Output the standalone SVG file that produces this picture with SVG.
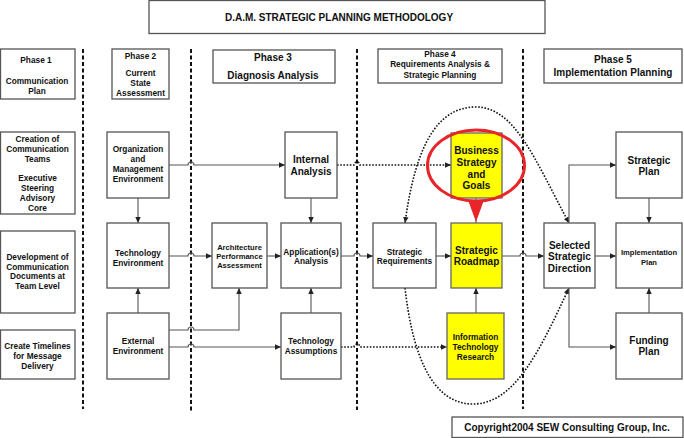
<svg xmlns="http://www.w3.org/2000/svg" width="684" height="438" viewBox="0 0 684 438">
<defs>
<style>
text{font-family:"Liberation Sans",Arial,sans-serif;font-weight:bold;fill:#111;text-anchor:middle;font-size:8.3px}
.box{fill:#fff;stroke:#555;stroke-width:1.3}
.yel{fill:#ffff00;stroke:#666;stroke-width:1.3}
.big{font-size:10px}
.sm{font-size:7.6px}
.sep{stroke:#111;stroke-width:2;stroke-dasharray:4 2.5;fill:none}
.c{fill:none;stroke:#555;stroke-width:1.1}
.d{fill:none;stroke:#111;stroke-width:1.6;stroke-dasharray:1.6 1.6}
</style>
<marker id="ah" viewBox="0 0 6 6" refX="6" refY="3" markerWidth="6" markerHeight="6" markerUnits="userSpaceOnUse" orient="auto-start-reverse">
<path d="M0,0.3 L6,3 L0,5.7 z" fill="#222"/>
</marker>
</defs>

<g id="separators">
<line class="sep" x1="83" y1="49" x2="83" y2="409"/>
<line class="sep" x1="191" y1="49" x2="191" y2="412"/>
<line class="sep" x1="357" y1="49" x2="357" y2="410"/>
<line class="sep" x1="523" y1="49" x2="523" y2="409"/>
</g>

<g id="title">
<rect class="box" x="149" y="0.5" width="396" height="33"/>
<text class="big" x="339" y="20.5">D.A.M. STRATEGIC PLANNING METHODOLOGY</text>
</g>

<g id="phase1">
<rect class="box" x="0.5" y="49" width="74.5" height="50"/>
<text x="36" y="63">Phase 1</text>
<text x="37" y="84">Communication</text>
<text x="37" y="94">Plan</text>
</g>
<g id="phase2">
<rect class="box" x="112" y="49" width="57" height="50"/>
<text x="140.5" y="59">Phase 2</text>
<text x="140.5" y="76">Current</text>
<text x="140.5" y="86">State</text>
<text x="140.5" y="96">Assessment</text>
</g>
<g id="phase3">
<rect class="box" x="213" y="50" width="122" height="33"/>
<text class="big" x="273" y="60.6">Phase 3</text>
<text class="big" x="273" y="78.6">Diagnosis Analysis</text>
</g>
<g id="phase4">
<rect class="box" x="378" y="49" width="124" height="34"/>
<text x="440" y="56.5">Phase 4</text>
<text x="440" y="67">Requirements Analysis &amp;</text>
<text x="440" y="78">Strategic Planning</text>
</g>
<g id="phase5">
<rect class="box" x="544" y="49" width="138" height="34"/>
<text class="big" x="613" y="62.6">Phase 5</text>
<text class="big" x="613" y="75.6">Implementation Planning</text>
</g>

<g id="creation">
<rect class="box" x="0.5" y="132" width="74.5" height="82"/>
<text x="37.5" y="142.3">Creation of</text>
<text x="37.5" y="152.3">Communication</text>
<text x="37.5" y="162.3">Teams</text>
<text x="37.5" y="181.3">Executive</text>
<text x="37.5" y="191.3">Steering</text>
<text x="37.5" y="201.3">Advisory</text>
<text x="37.5" y="211.3">Core</text>
</g>
<g id="development">
<rect class="box" x="0.5" y="231" width="74.5" height="82"/>
<text x="37.5" y="260">Development of</text>
<text x="37.5" y="269.5">Communication</text>
<text x="37.5" y="279">Documents at</text>
<text x="37.5" y="289">Team Level</text>
</g>
<g id="timelines">
<rect class="box" x="0.5" y="330" width="74.5" height="49"/>
<text x="37.5" y="349">Create Timelines</text>
<text x="37.5" y="359">for Message</text>
<text x="37.5" y="369">Delivery</text>
</g>

<g id="connectors">
<path class="c" d="M169,165 H188 A3,3 0 0 1 194,165 H285" marker-end="url(#ah)"/>
<path class="c" d="M138,198 V223" marker-end="url(#ah)"/>
<path class="c" d="M138,313 V288" marker-end="url(#ah)"/>
<path class="c" d="M169,256 H188 A3,3 0 0 1 194,256 H212" marker-end="url(#ah)"/>
<path class="c" d="M169,330 H188 A3,3 0 0 1 194,330 H239 V288" marker-end="url(#ah)"/>
<path class="c" d="M169,347 H188 A3,3 0 0 1 194,347 H281" marker-end="url(#ah)"/>
<path class="c" d="M267,256 H281" marker-end="url(#ah)"/>
<path class="c" d="M311,198 V223" marker-end="url(#ah)"/>
<path class="c" d="M311,313 V288" marker-end="url(#ah)"/>
<path class="c" d="M341,256 H354 A3,3 0 0 1 360,256 H373" marker-end="url(#ah)"/>
<path class="d" d="M337,165 H354 A3,3 0 0 1 360,165 H451" marker-end="url(#ah)"/>
<path class="d" d="M341,347 H354 A3,3 0 0 1 360,347 H447" marker-end="url(#ah)"/>
<path class="c" d="M436,256 H451" marker-end="url(#ah)"/>
<path class="c" d="M476,198 V223"/>
<path class="c" d="M476,313 V288" marker-end="url(#ah)"/>
<path class="c" d="M502,256 H520 A3,3 0 0 1 526,256 H544" marker-end="url(#ah)"/>
<path class="d" d="M405,223 C415,150 435,107 476,107 C515,107 535,160 569,223" marker-start="url(#ah)" marker-end="url(#ah)"/>
<path class="d" d="M405,288 C412,350 430,404 473,404 C515,404 540,350 569,288" marker-end="url(#ah)"/>
<path class="c" d="M569,223 V165 H616" marker-end="url(#ah)"/>
<path class="c" d="M595,256 H616" marker-end="url(#ah)"/>
<path class="c" d="M569,288 V347 H616" marker-end="url(#ah)"/>
<path class="c" d="M649,198 V223" marker-end="url(#ah)"/>
<path class="c" d="M649,313 V288" marker-end="url(#ah)"/>
</g>

<g id="org">
<rect class="box" x="107" y="132" width="62" height="66"/>
<text x="138" y="152.3">Organization</text>
<text x="138" y="162.3">and</text>
<text x="138" y="172.3">Management</text>
<text x="138" y="182.3">Environment</text>
</g>
<g id="techenv">
<rect class="box" x="107" y="223" width="62" height="65"/>
<text x="138" y="256">Technology</text>
<text x="138" y="265.5">Environment</text>
</g>
<g id="external">
<rect class="box" x="107" y="313" width="62" height="66"/>
<text x="138" y="344">External</text>
<text x="138" y="354">Environment</text>
</g>

<g id="internal">
<rect class="box" x="285" y="132" width="52" height="66"/>
<text class="big" x="311" y="163">Internal</text>
<text class="big" x="311" y="174.6">Analysis</text>
</g>
<g id="archperf">
<rect class="box" x="212" y="223" width="55" height="65"/>
<text class="sm" x="239.5" y="249.5">Architecture</text>
<text class="sm" x="239.5" y="258.5">Performance</text>
<text class="sm" x="239.5" y="267.7">Assessment</text>
</g>
<g id="appanalysis">
<rect class="box" x="281" y="223" width="60" height="65"/>
<text x="311" y="254.7">Application(s)</text>
<text x="311" y="264">Analysis</text>
</g>
<g id="techassump">
<rect class="box" x="281" y="313" width="60" height="66"/>
<text x="311" y="344">Technology</text>
<text x="311" y="354">Assumptions</text>
</g>

<g id="stratreq">
<rect class="box" x="373" y="223" width="63" height="65"/>
<text x="404.5" y="254.7">Strategic</text>
<text x="404.5" y="264">Requirements</text>
</g>
<g id="bsg">
<rect class="yel" x="451" y="133" width="51" height="65"/>
<text class="big" x="476.5" y="153.6">Business</text>
<text class="big" x="476.5" y="166">Strategy</text>
<text class="big" x="476.5" y="177.6">and</text>
<text class="big" x="476.5" y="189.3">Goals</text>
</g>
<g id="roadmap">
<rect class="yel" x="451" y="223" width="51" height="65"/>
<text class="big" x="476.5" y="253.6">Strategic</text>
<text class="big" x="476.5" y="265.3">Roadmap</text>
</g>
<g id="itresearch">
<rect class="yel" x="447" y="313" width="57" height="66"/>
<text x="475.5" y="339.7">Information</text>
<text x="475.5" y="349.7">Technology</text>
<text x="475.5" y="359.7">Research</text>
</g>
<g id="highlight">
<ellipse cx="476" cy="165.5" rx="48.5" ry="35.5" fill="none" stroke="#e8262a" stroke-width="3"/>
<polygon points="468,200 484,200 476,222" fill="#e8262a"/>
</g>

<g id="ssd">
<rect class="box" x="544" y="223" width="51" height="65"/>
<text class="big" x="569.5" y="248.6">Selected</text>
<text class="big" x="569.5" y="260.3">Strategic</text>
<text class="big" x="569.5" y="272">Direction</text>
</g>
<g id="stratplan">
<rect class="box" x="616" y="132" width="66" height="66"/>
<text class="big" x="649" y="163.6">Strategic</text>
<text class="big" x="649" y="175.3">Plan</text>
</g>
<g id="implplan">
<rect class="box" x="616" y="223" width="66" height="65"/>
<text class="sm" x="649" y="255.3">Implementation</text>
<text class="sm" x="649" y="265.3">Plan</text>
</g>
<g id="funding">
<rect class="box" x="616" y="313" width="66" height="66"/>
<text class="big" x="649" y="343.6">Funding</text>
<text class="big" x="649" y="354.6">Plan</text>
</g>

<g id="copyright">
<rect class="box" x="452" y="417" width="231" height="20.5"/>
<text class="big" x="567" y="431">Copyright2004 SEW Consulting Group, Inc.</text>
</g>
</svg>
